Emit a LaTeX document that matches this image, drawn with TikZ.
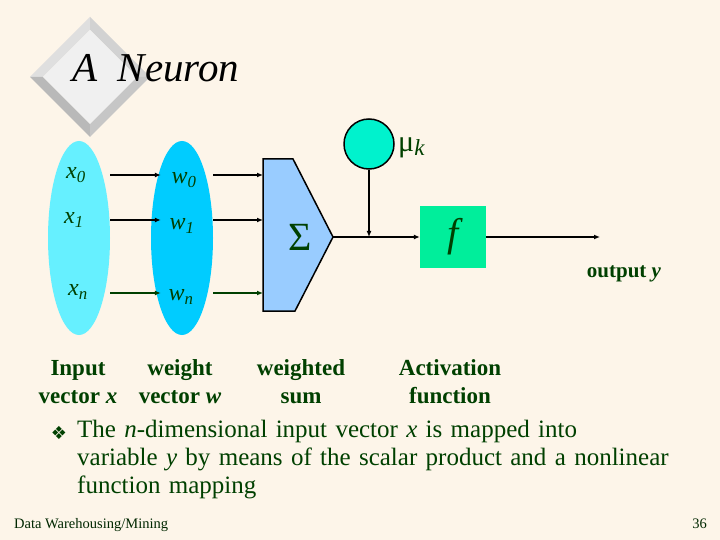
\documentclass[tikz,border=0pt]{standalone}
\usepackage{fontspec}
\setmainfont{Liberation Serif}
\newfontfamily\simbolo{DejaVu Sans}
\usetikzlibrary{arrows.meta,positioning,shapes.geometric,calc}

\definecolor{fondo}{RGB}{253,245,233}
\definecolor{verde}{RGB}{0,64,0}
\definecolor{cianclaro}{RGB}{102,240,255}
\definecolor{cian}{RGB}{0,204,255}
\definecolor{azulsuma}{RGB}{153,204,255}
\definecolor{turquesa}{RGB}{0,242,205}
\definecolor{verdef}{RGB}{0,238,155}

\begin{document}
\begin{tikzpicture}[
    x=1pt, y=-1pt,
    >={Latex[length=6pt,width=5pt]},
    flecha/.style={->, line width=1.5pt},
    ovalo/.style={ellipse, minimum width=62pt, minimum height=194pt, inner sep=0pt},
    lbl/.style={text=verde, inner sep=0pt, font=\fontsize{24}{24}\selectfont\itshape},
    capt/.style={text=verde, inner sep=0pt, align=center, font=\fontsize{23}{28}\selectfont\bfseries}
]

% Fondo
\fill[fondo] (0,0) rectangle (720,540);
\useasboundingbox (0,0) rectangle (720,540);

% Rombo del titulo
\fill[gray!25] (30,77) -- (90,17) -- (90,30) -- (43,77) -- cycle;
\fill[gray!35] (90,17) -- (150,77) -- (137,77) -- (90,30) -- cycle;
\fill[gray!55] (30,77) -- (90,137) -- (90,124) -- (43,77) -- cycle;
\fill[gray!45] (90,137) -- (150,77) -- (137,77) -- (90,124) -- cycle;
\fill[gray!12] (43,77) -- (90,30) -- (137,77) -- (90,124) -- cycle;

% Titulo
\node[anchor=base west, inner sep=0pt, font=\fontsize{41}{41}\selectfont\itshape] (titulo)
  at (72,82) {A\ \ Neuron};

% Vectores
\node[ovalo, fill=cianclaro] (ex) at (79,238) {};
\node[ovalo, fill=cian] (ew) at (182,238) {};

\node[lbl] (x0) at (76,175) {x\textsubscript{0}};
\node[lbl] (x1) at (74,220) {x\textsubscript{1}};
\node[lbl] (xn) at (78,292) {x\textsubscript{n}};

\node[lbl] (w0) at (184,180) {w\textsubscript{0}};
\node[lbl] (w1) at (182,226) {w\textsubscript{1}};
\node[lbl] (wn) at (181,297) {w\textsubscript{n}};

% Sumador
\coordinate (sumizq) at (263,237);
\coordinate (punta) at (333,237);
\filldraw[fill=azulsuma, draw=black, line width=1.5pt]
  (263,159) -- (293,159) -- (punta) -- (295,311) -- (263,311) -- cycle;
\node[text=verde, font=\fontsize{40}{40}\selectfont] (sigma) at (300,237) {Σ};

% Umbral
\node[circle, fill=turquesa, draw=black, line width=1.5pt, minimum size=50pt, inner sep=0pt]
  (mu) at (369,144) {};
\node[anchor=base west, inner sep=0pt, text=verde, font=\fontsize{30}{30}\selectfont] (muk)
  at (398,152) {μ{\itshape\fontsize{23}{23}\selectfont\raisebox{-4pt}{k}}};

% Activacion
\node[fill=verdef, minimum width=66pt, minimum height=62pt, inner sep=0pt,
      text=verde, font=\fontsize{40}{40}\selectfont\itshape] (fbox) at (453,237) {f};

% Salida
\coordinate (salida) at (600,237);
\node[text=verde, inner sep=0pt, font=\fontsize{21}{21}\selectfont\bfseries] (outy)
  at (624,274) {output \textit{y}};

% Conexiones
\draw[flecha] (x0 -| ex.east) -- ($(x0 -| ew.west)+(10,0)$);
\draw[flecha] (x1 -| ex.east) -- ($(x1 -| ew.west)+(10,0)$);
\draw[flecha, verde] ($(xn -| ex.east)+(0,1)$) -- ($(xn -| ew.west)+(10,1)$);
\draw[flecha] (x0 -| ew.east) -- (x0 -| sumizq);
\draw[flecha] (x1 -| ew.east) -- (x1 -| sumizq);
\draw[flecha, verde] ($(xn -| ew.east)+(0,1)$) -- ($(xn -| sumizq)+(0,1)$);
\draw[flecha] (punta) -- (fbox);
\draw[flecha] (mu) -- (mu |- punta);
\draw[flecha] (fbox) -- (salida);

% Rotulos
\node[capt] (cx) at (78,382) {Input\\vector \textit{x}};
\node[capt] (cw) at (180,382) {weight\\vector \textit{w}};
\node[capt] (cs) at (301,382) {weighted\\sum};
\node[capt] (ca) at (450,382) {Activation\\function};

% Texto
\node[text=verde, inner sep=0pt, font=\simbolo\fontsize{18}{18}\selectfont] (vineta) at (59,433) {❖};
\node[anchor=north west, inner sep=0pt, text width=640pt, align=left, text=verde,
      font=\fontsize{25}{28}\selectfont] (texto) at (77,420)
  {The \textit{n}-dimensional input vector \textit{x} is mapped into\\
   variable \textit{y} by means of the scalar product and a nonlinear\\
   function mapping};

% Pie
\node[anchor=base west, inner sep=0pt, text=verde!60!black, font=\fontsize{14.5}{14.5}\selectfont]
  (pie) at (14,528) {Data Warehousing/Mining};
\node[anchor=base east, inner sep=0pt, text=verde!60!black, font=\fontsize{14.5}{14.5}\selectfont]
  (pag) at (707,528) {36};

\end{tikzpicture}
\end{document}
